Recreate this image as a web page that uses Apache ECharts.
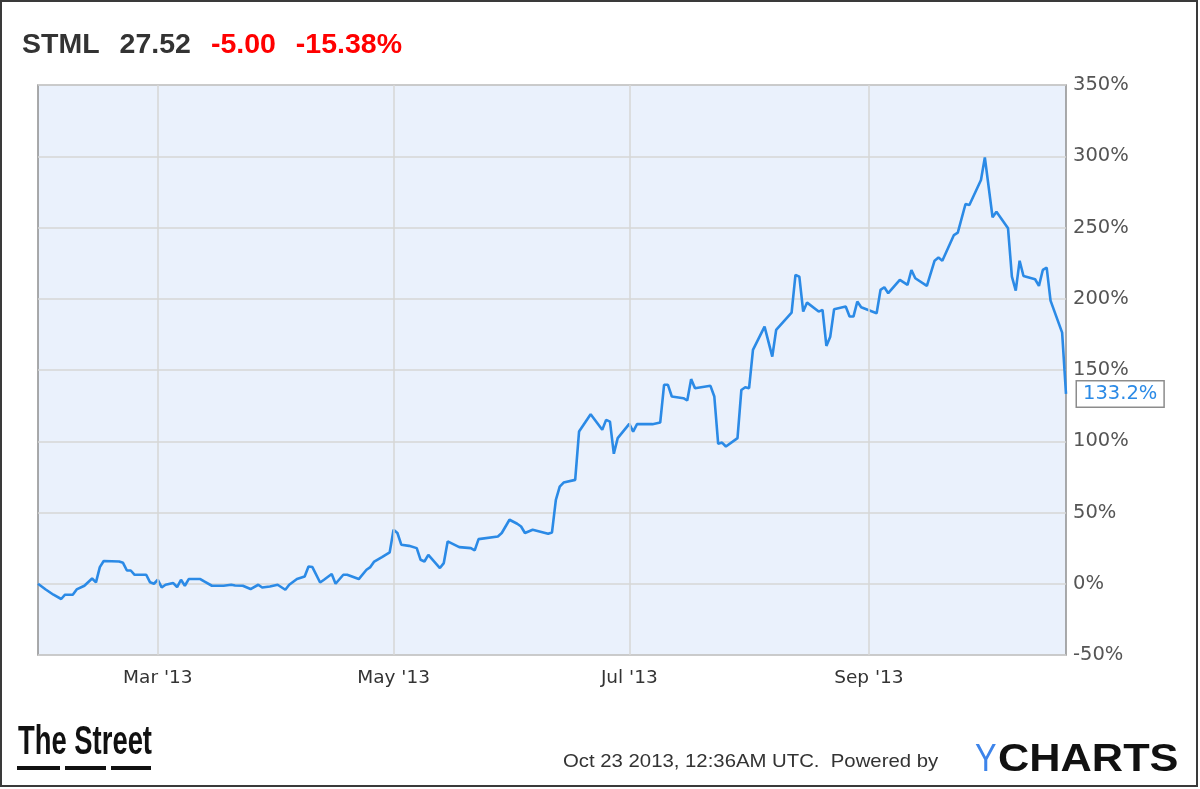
<!DOCTYPE html>
<html><head><meta charset="utf-8">
<script src="https://cdn.jsdelivr.net/npm/echarts@6/dist/echarts.min.js"></script>
<style>html,body{margin:0;padding:0;background:#fff}#c{width:1200px;height:789px}</style>
</head><body><div id="c"></div>
<script>
const ticker = 'STML', price = '27.52', change = '-5.00', changePct = '-15.38%';
const dates = [
'2013-01-29','2013-01-31','2013-02-02','2013-02-04','2013-02-05','2013-02-07','2013-02-08','2013-02-10','2013-02-12','2013-02-13',
'2013-02-14','2013-02-15','2013-02-19','2013-02-20','2013-02-21','2013-02-22','2013-02-23','2013-02-26','2013-02-27','2013-02-28',
'2013-03-01','2013-03-02','2013-03-03','2013-03-05','2013-03-06','2013-03-07','2013-03-08','2013-03-09','2013-03-12','2013-03-13',
'2013-03-15','2013-03-18','2013-03-20','2013-03-21','2013-03-23','2013-03-25','2013-03-27','2013-03-28','2013-03-30','2013-04-01',
'2013-04-03','2013-04-04','2013-04-06','2013-04-08','2013-04-09','2013-04-10','2013-04-12','2013-04-13','2013-04-15','2013-04-16',
'2013-04-18','2013-04-19','2013-04-22','2013-04-24','2013-04-25','2013-04-26','2013-04-28','2013-04-30','2013-05-01','2013-05-02',
'2013-05-03','2013-05-05','2013-05-07','2013-05-08','2013-05-09','2013-05-10','2013-05-13','2013-05-14','2013-05-15','2013-05-18',
'2013-05-21','2013-05-22','2013-05-23','2013-05-28','2013-05-29','2013-05-31','2013-06-02','2013-06-03','2013-06-04','2013-06-06',
'2013-06-10','2013-06-11','2013-06-12','2013-06-13','2013-06-14','2013-06-17','2013-06-18','2013-06-21','2013-06-24','2013-06-25',
'2013-06-26','2013-06-27','2013-06-28','2013-07-01','2013-07-02','2013-07-03','2013-07-07','2013-07-09','2013-07-10','2013-07-11',
'2013-07-12','2013-07-15','2013-07-16','2013-07-17','2013-07-18','2013-07-22','2013-07-23','2013-07-24','2013-07-25','2013-07-26',
'2013-07-29','2013-07-30','2013-07-31','2013-08-01','2013-08-02','2013-08-05','2013-08-07','2013-08-08','2013-08-12','2013-08-13',
'2013-08-14','2013-08-15','2013-08-16','2013-08-19','2013-08-20','2013-08-21','2013-08-22','2013-08-23','2013-08-26','2013-08-27',
'2013-08-28','2013-08-29','2013-08-30','2013-09-03','2013-09-04','2013-09-05','2013-09-06','2013-09-09','2013-09-11','2013-09-12',
'2013-09-13','2013-09-16','2013-09-18','2013-09-19','2013-09-20','2013-09-23','2013-09-24','2013-09-26','2013-09-27','2013-09-30',
'2013-10-01','2013-10-03','2013-10-04','2013-10-07','2013-10-08','2013-10-09','2013-10-10','2013-10-11','2013-10-14','2013-10-15',
'2013-10-16','2013-10-17','2013-10-18','2013-10-21','2013-10-22'
];
const pctChange = [
0,-4,-7.7,-10.7,-7.7,-7.7,-4,-1.4,3.7,1,
11.7,16,15.6,14.7,9.3,9.3,6.3,6.3,1,0,
2.8,-2.6,-0.7,0.5,-2.3,2.8,-1.4,3.3,3.3,1.6,
-1.4,-1.4,-0.7,-1.2,-1.4,-3.7,-0.7,-2.6,-1.9,-0.7,
-4.2,-0.7,3.3,5.1,12.1,11.7,0.9,2.8,6.8,0,
6.3,6.3,3.3,9.8,11.7,15.6,18.7,22,37.9,35.6,
27.4,26.6,25,16.8,15.6,20.3,11,14.5,29.7,25.7,
25,23.4,31.3,33.2,35.6,44.9,42.1,40.2,35.6,37.9,
35.1,36,58.9,68.2,71,72.9,106.8,119,108,115,
113.8,91.2,102.2,112.2,106.8,112,112,113.1,139.6,139.6,
131.4,130.2,128.6,143.6,137.2,138.9,131.4,98.2,99.1,96.3,
102.2,136,137.9,137.2,164.1,180.4,159.4,178.1,190.3,216.7,
215.5,191,197.3,191,192.2,166.9,173.4,192.7,194.5,187.5,
187.5,198,194,189.8,206.2,208.1,203.9,213.2,209.7,220.2,
214.4,209,226.7,228.9,226.7,244.7,246.4,266.5,265.8,283.3,
299.2,257.2,261.1,249.4,215.5,205.7,226.7,216,213.7,209,
220.2,221.8,198.7,176.2,133.2
];
const xTickDates = ['2013-03-01','2013-05-01','2013-07-01','2013-09-01'];
const monthNames = ['Jan','Feb','Mar','Apr','May','Jun','Jul','Aug','Sep','Oct','Nov','Dec'];
const footerStamp = 'Oct 23 2013, 12:36AM UTC.  Powered by';

const toTs = d => Date.parse(d + 'T00:00:00Z');
const seriesData = dates.map((d, i) => [toTs(d), pctChange[i]]);
const tickTs = xTickDates.map(toTs);

const chart = echarts.init(document.getElementById('c'), null, {renderer: 'canvas'});
chart.setOption({
  animation: false,
  backgroundColor: '#fff',
  title: {
    left: 17, top: 23,
    text: `{a|${ticker}}{b|${price}}{c|${change}}{c|${changePct}}`,
    textStyle: {
      rich: {
        a: {fontFamily: 'Liberation Sans', fontWeight: 'bold', fontSize: 28.5, color: '#333', lineHeight: 34},
        b: {fontFamily: 'Liberation Sans', fontWeight: 'bold', fontSize: 28.5, color: '#333', lineHeight: 34, padding: [0,0,0,20]},
        c: {fontFamily: 'Liberation Sans', fontWeight: 'bold', fontSize: 28.5, color: '#f00', lineHeight: 34, padding: [0,0,0,20]}
      }
    }
  },
  grid: {
    left: 38, right: 134, top: 85, bottom: 134,
    show: true, backgroundColor: '#eaf1fc', borderColor: '#8e8e8e', borderWidth: 1.5
  },
  xAxis: {
    type: 'value',
    min: toTs(dates[0]), max: toTs(dates[dates.length - 1]),
    axisLine: {show: false}, axisTick: {show: false}, splitLine: {show: false},
    axisLabel: {
      customValues: tickTs,
      formatter: v => { const d = new Date(v); return monthNames[d.getUTCMonth()] + " '" + String(d.getUTCFullYear()).slice(2); },
      color: '#333', fontFamily: 'DejaVu Sans', fontSize: 18.5, margin: 14
    }
  },
  yAxis: {
    type: 'value', position: 'right',
    min: -50, max: 350, interval: 50,
    axisLine: {show: false}, axisTick: {show: false},
    splitLine: {lineStyle: {color: '#d6d6d6', width: 1.5}},
    axisLabel: {formatter: '{value}%', color: '#555', fontFamily: 'DejaVu Sans', fontSize: 19.5, margin: 7}
  },
  series: [
    {
      type: 'line', data: [], z: 1, silent: true,
      markLine: {
        silent: true, symbol: 'none', animation: false,
        label: {show: false},
        lineStyle: {color: '#d6d6d6', width: 1.5, type: 'solid'},
        data: tickTs.map(t => ({xAxis: t}))
      }
    },
    {
      type: 'line', data: seriesData, z: 3,
      showSymbol: false, symbol: 'none',
      lineStyle: {color: '#2b8ae6', width: 2.6},
      itemStyle: {color: '#2b8ae6'},
      endLabel: {
        show: true, distance: 11,
        formatter: p => p.value[1].toFixed(1) + '%',
        color: '#2b8ae6', fontFamily: 'DejaVu Sans', fontSize: 19.5,
        backgroundColor: '#fff', borderColor: '#8c8c8c', borderWidth: 1.5,
        padding: [3, 6, 2, 6]
      }
    }
  ],
  graphic: [
    {type: 'rect', shape: {x: 1, y: 1, width: 1196, height: 785}, style: {fill: 'none', stroke: '#3a3a3a', lineWidth: 2}, z: 100},
    {type: 'text', x: 18, y: 743, scaleX: 0.685, style: {text: 'The Street', font: 'bold 40px "Liberation Sans"', fill: '#111', textVerticalAlign: 'middle'}},
    {type: 'rect', shape: {x: 17, y: 766, width: 43, height: 4}, style: {fill: '#111'}},
    {type: 'rect', shape: {x: 65, y: 766, width: 41, height: 4}, style: {fill: '#111'}},
    {type: 'rect', shape: {x: 111, y: 766, width: 40, height: 4}, style: {fill: '#111'}},
    {type: 'text', x: 563, y: 762, scaleX: 1.07, style: {text: footerStamp, font: '19px "Liberation Sans"', fill: '#333', textVerticalAlign: 'middle'}},
    {type: 'text', x: 975, y: 761, scaleX: 0.85, style: {text: 'Y', font: '38px "Liberation Sans"', fill: '#3d84ea', textVerticalAlign: 'middle'}},
    {type: 'text', x: 998, y: 761, scaleX: 1.14, style: {text: 'CHARTS', font: 'bold 38px "Liberation Sans"', fill: '#111', textVerticalAlign: 'middle'}}
  ]
});
</script>
</body></html>
